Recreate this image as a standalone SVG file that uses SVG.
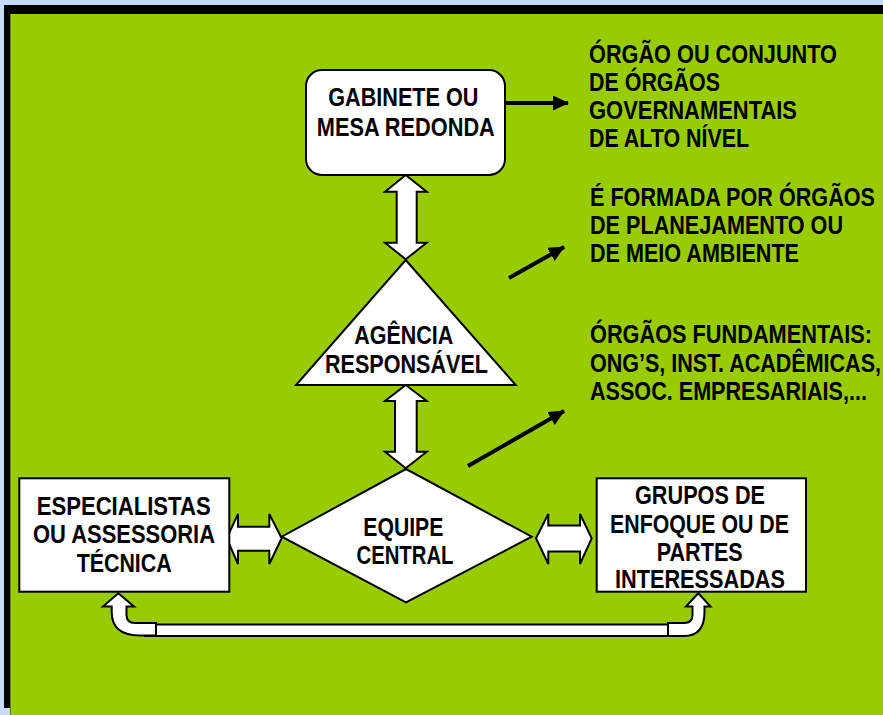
<svg xmlns="http://www.w3.org/2000/svg" width="883" height="715" viewBox="0 0 883 715">
<defs>
<style>
.t{font-family:"Liberation Sans Narrow","Liberation Sans",Arial,sans-serif;font-weight:bold;font-size:26px;fill:#000}
.c{text-anchor:middle}
.shape{fill:#fff;stroke:#000;stroke-width:2;stroke-linejoin:miter}
.blk{stroke:#000;stroke-width:4;fill:none}
</style>
<marker id="ah" markerUnits="userSpaceOnUse" markerWidth="17" markerHeight="16" refX="15" refY="7.5" orient="auto">
<path d="M0,0 L16,7.5 L0,15 z" fill="#000"/>
</marker>
</defs>
<rect x="0" y="0" width="883" height="715" fill="#C6DBF7"/>
<rect x="4" y="5" width="879" height="9" fill="#000"/>
<rect x="4" y="5" width="6" height="703" fill="#000"/>
<rect x="10" y="14" width="873" height="701" fill="#99CC00"/>
<rect x="10" y="14" width="1" height="701" fill="#5E8000"/>

<g id="connectors">
<line class="blk" x1="505" y1="103" x2="568" y2="103" marker-end="url(#ah)"/>
<line class="blk" x1="509" y1="278" x2="564" y2="247" marker-end="url(#ah)"/>
<line class="blk" x1="468" y1="466" x2="564" y2="411" marker-end="url(#ah)"/>
<path class="shape" d="M405.7,175 L426.7,191.7 L416.7,191.7 L416.7,242.7 L426.7,242.7 L405.7,259.3 L385,242.7 L396.7,242.7 L396.7,191.7 L385,191.7 Z"/>
<path class="shape" d="M405.7,385 L426.7,401 L416.7,401 L416.7,451.7 L426.7,451.7 L405.7,468.3 L385,451.7 L395,451.7 L395,401 L385,401 Z"/>
<path class="shape" d="M226.7,538.3 L238,514 L238,526.7 L269.3,526.7 L269.3,514 L281.7,538.3 L269.3,564 L269.3,550.7 L238,550.7 L238,564 Z"/>
<path class="shape" d="M536,538.3 L548.3,514 L548.3,525.5 L580,525.5 L580,514 L591.7,538.3 L580,564 L580,551.5 L548.3,551.5 L548.3,564 Z"/>
<rect class="shape" x="145" y="624.5" width="530" height="11.5"/>
<path class="shape" d="M118.3,593.3 L134,606.5 L126.5,606.5 L126.5,615 Q126.5,623 135,623 L156,623 L156,635.5 L140,635.5 Q111.7,635.5 111.7,612 L111.7,606.5 L103,606.5 Z"/>
<path class="shape" d="M698.3,593.3 L686,606.5 L692.5,606.5 L692.5,615 Q692.5,623 684,623 L668,623 L668,636 L684,636 Q704.5,636 704.5,612 L704.5,606.5 L710.5,606.5 Z"/>
</g>

<g id="gabinete">
<rect class="shape" x="306" y="70" width="199" height="105" rx="16" ry="16"/>
<text class="t c" x="403.3" y="106" textLength="150" lengthAdjust="spacingAndGlyphs">GABINETE OU</text>
<text class="t c" x="405.8" y="136" textLength="178" lengthAdjust="spacingAndGlyphs">MESA REDONDA</text>
</g>

<g id="agencia">
<path class="shape" d="M405.7,260 L515.7,385 L296,385 Z"/>
<text class="t c" x="403.7" y="344" textLength="99" lengthAdjust="spacingAndGlyphs">AGÊNCIA</text>
<text class="t c" x="406.5" y="372.7" textLength="163" lengthAdjust="spacingAndGlyphs">RESPONSÁVEL</text>
</g>

<g id="equipe">
<path class="shape" d="M406,469 L531.7,536.7 L406,602.3 L281.7,536.7 Z"/>
<text class="t c" x="403.3" y="536" textLength="80" lengthAdjust="spacingAndGlyphs">EQUIPE</text>
<text class="t c" x="405" y="564" textLength="97" lengthAdjust="spacingAndGlyphs">CENTRAL</text>
</g>

<g id="especialistas">
<rect class="shape" x="19.3" y="478.3" width="210" height="113.4"/>
<text class="t c" x="123.7" y="515" textLength="174" lengthAdjust="spacingAndGlyphs">ESPECIALISTAS</text>
<text class="t c" x="124" y="543.3" textLength="182" lengthAdjust="spacingAndGlyphs">OU ASSESSORIA</text>
<text class="t c" x="124.2" y="571.7" textLength="95" lengthAdjust="spacingAndGlyphs">TÉCNICA</text>
</g>

<g id="grupos">
<rect class="shape" x="596.7" y="478.3" width="209.3" height="113.4"/>
<text class="t c" x="700" y="504" textLength="130" lengthAdjust="spacingAndGlyphs">GRUPOS DE</text>
<text class="t c" x="699.5" y="532.7" textLength="179" lengthAdjust="spacingAndGlyphs">ENFOQUE OU DE</text>
<text class="t c" x="699.7" y="560.7" textLength="86" lengthAdjust="spacingAndGlyphs">PARTES</text>
<text class="t c" x="700" y="588.3" textLength="170" lengthAdjust="spacingAndGlyphs">INTERESSADAS</text>
</g>

<g id="nota-gabinete">
<text class="t" x="589" y="63" textLength="248" lengthAdjust="spacingAndGlyphs">ÓRGÃO OU CONJUNTO</text>
<text class="t" x="589" y="91" textLength="131" lengthAdjust="spacingAndGlyphs">DE ÓRGÃOS</text>
<text class="t" x="589" y="118.5" textLength="208" lengthAdjust="spacingAndGlyphs">GOVERNAMENTAIS</text>
<text class="t" x="589" y="146.5" textLength="160" lengthAdjust="spacingAndGlyphs">DE ALTO NÍVEL</text>
</g>

<g id="nota-agencia">
<text class="t" x="590" y="206" textLength="285" lengthAdjust="spacingAndGlyphs">É FORMADA POR ÓRGÃOS</text>
<text class="t" x="590" y="234" textLength="253" lengthAdjust="spacingAndGlyphs">DE PLANEJAMENTO OU</text>
<text class="t" x="590" y="262" textLength="209" lengthAdjust="spacingAndGlyphs">DE MEIO AMBIENTE</text>
</g>

<g id="nota-equipe">
<text class="t" x="590" y="343" textLength="282" lengthAdjust="spacingAndGlyphs">ÓRGÃOS FUNDAMENTAIS:</text>
<text class="t" x="590" y="371.7" textLength="291" lengthAdjust="spacingAndGlyphs">ONG’S, INST. ACADÊMICAS,</text>
<text class="t" x="590" y="400" textLength="277" lengthAdjust="spacingAndGlyphs">ASSOC. EMPRESARIAIS,...</text>
</g>
</svg>
